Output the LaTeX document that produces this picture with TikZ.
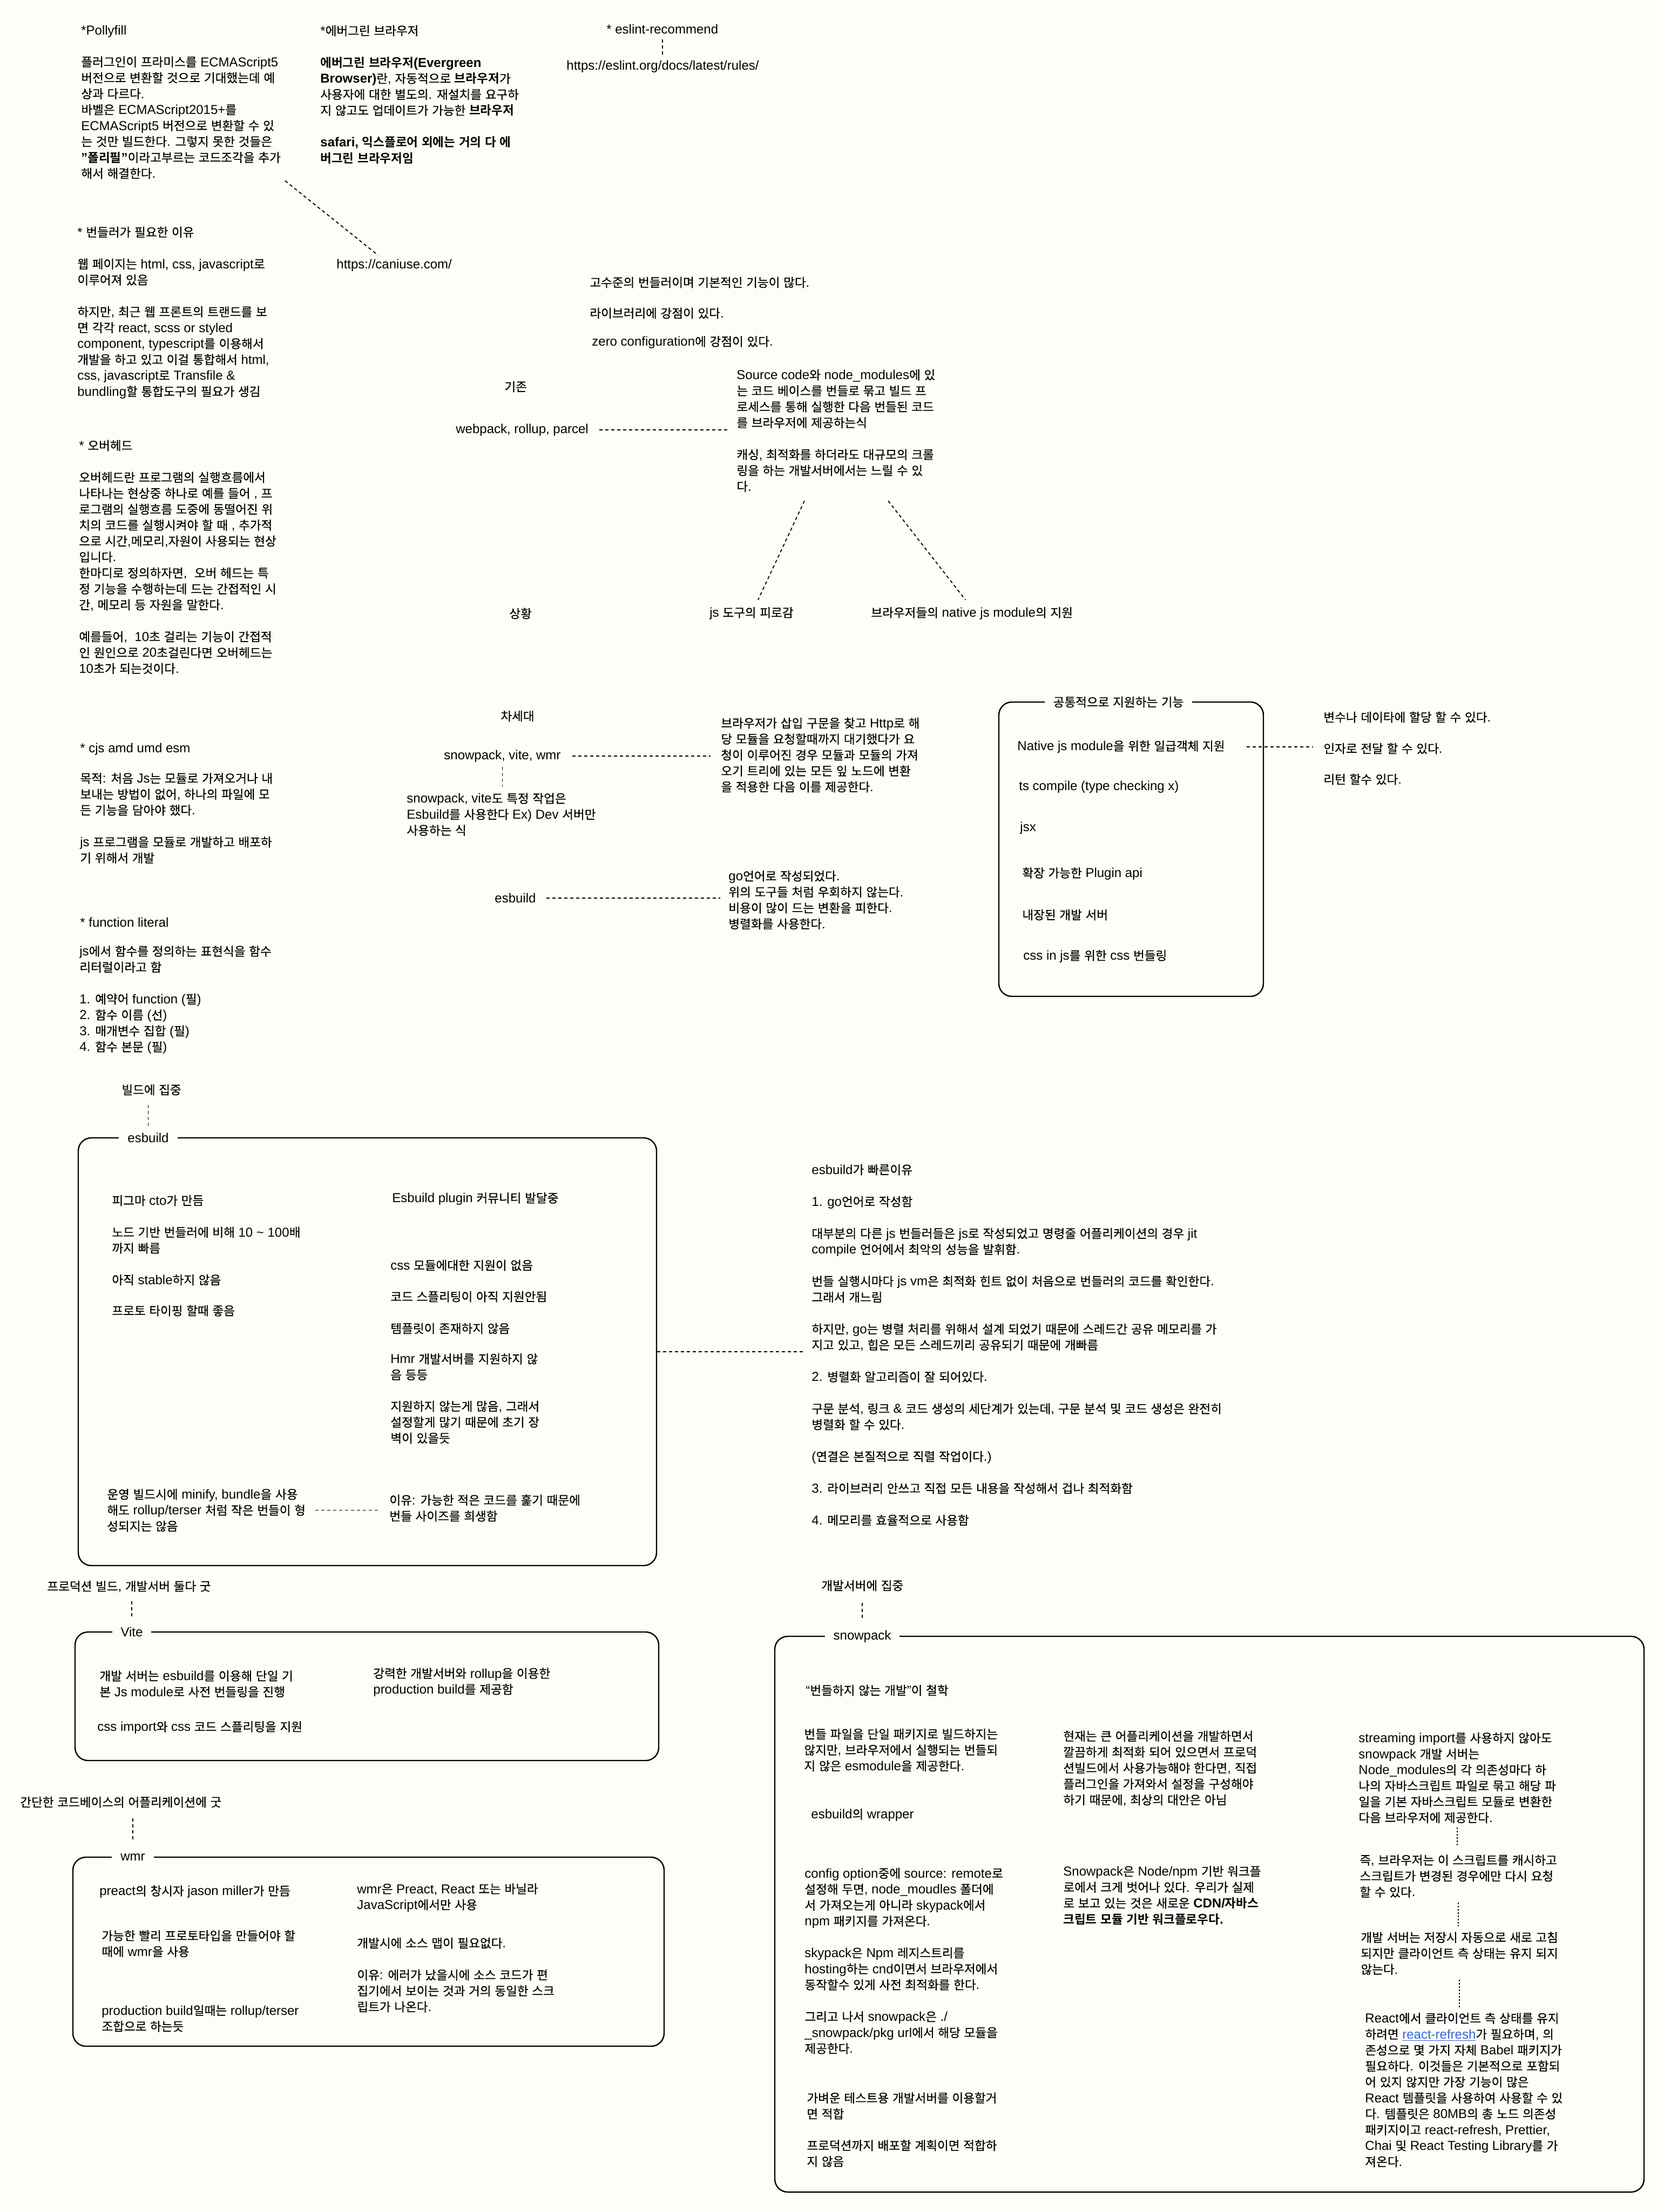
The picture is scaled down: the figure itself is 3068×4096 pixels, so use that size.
\documentclass[tikz,border=0pt]{standalone}
\usepackage{fontspec}
\setmainfont{Liberation Sans}
\newfontfamily\krfont[Scale=0.94,FakeBold=0.5,BoldFont={Noto Sans CJK KR Bold},BoldFeatures={FakeBold=0}]{Noto Sans CJK KR}
\usetikzlibrary{fit}
\definecolor{bgc}{RGB}{255,253,247}
\definecolor{linkblue}{RGB}{51,102,221}
% every Hangul syllable becomes active and is set in the Korean family
\def\krchar#1{{\krfont\char#1\relax}}
\newcount\krc
\krc="AC00
\loop
  \begingroup\lccode`\~=\krc
  \lowercase{\endgroup\edef~{\noexpand\krchar{\the\krc}}}%
  \catcode\krc=13
  \advance\krc by 1
\ifnum\krc<"D7A4 \repeat
\lineskiplimit=-20pt
\lineskip=0pt
\newcommand\fs{\fontsize{12pt}{14.75pt}\selectfont}
\newcommand\blk{14.75pt}
\tikzset{
  txt/.style={anchor=west, inner sep=0pt, align=left, font=\fs},
  ttl/.style={fill=bgc, inner xsep=8pt, inner ysep=3pt, font=\fs},
  frame/.style={draw=black, line width=1.2pt, rounded corners=12pt, inner sep=0pt},
  conn/.style={draw=black, line width=0.9pt, dash pattern=on 3pt off 2.5pt},
  dotc/.style={draw=black, line width=1.2pt, dash pattern=on 1.5pt off 1.5pt}
}
\begin{document}
\begin{tikzpicture}[x=0.5pt,y=-0.5pt]
\useasboundingbox (0,0) rectangle (3068,4096);
\fill[bgc] (0,0) rectangle (3068,4096);

% ---------- frames ----------
\node[frame, fit={(1850,1300) (2340,1845)}] (combox) {};
\node[frame, fit={(145,2107) (1216,2899)}] (esbox) {};
\node[frame, fit={(139,3022) (1220,3260)}] (vitebox) {};
\node[frame, fit={(135,3439) (1230,3789)}] (wmrbox) {};
\node[frame, fit={(1435,3030) (3045,4059)}] (snowbox) {};
\node[ttl] (comtitle) at (2071.5,1300) {공통적으로 지원하는 기능};
\node[ttl] (estitle) at (274.5,2107) {esbuild};
\node[ttl] (vitetitle) at (244,3022) {Vite};
\node[ttl] (wmrtitle) at (246,3439) {wmr};
\node[ttl] (snowtitle) at (1597,3030) {snowpack};

% ---------- top left ----------
\node[txt] (polly) at (150,189) {*Pollyfill\\[\blk]
플러그인이 프라미스를 ECMAScript5\\
버전으로 변환할 것으로 기대했는데 예\\
상과 다르다.\\
바벨은 ECMAScript2015+를\\
ECMAScript5 버전으로 변환할 수 있\\
는 것만 빌드한다. 그렇지 못한 것들은\\
\textbf{"폴리필"}이라고부르는 코드조각을 추가\\
해서 해결한다.};

\node[txt] (ever) at (593,175) {*에버그린 브라우저\\[\blk]
\textbf{에버그린 브라우저(Evergreen}\\
\textbf{Browser)}란, 자동적으로 \textbf{브라우저}가\\
사용자에 대한 별도의. 재설치를 요구하\\
지 않고도 업데이트가 가능한 \textbf{브라우저}\\[\blk]
\textbf{safari, 익스플로어 외에는 거의 다 에}\\
\textbf{버그린 브라우저임}};

\node[txt] (eslint) at (1123,54) {* eslint-recommend};
\node[txt] (eslinturl) at (1049,123) {https://eslint.org/docs/latest/rules/};
\node[txt] (caniuse) at (623,491) {https://caniuse.com/};

\node[txt] (bundler) at (143,579) {* 번들러가 필요한 이유\\[\blk]
웹 페이지는 html, css, javascript로\\
이루어져 있음\\[\blk]
하지만, 최근 웹 프론트의 트랜드를 보\\
면 각각 react, scss or styled\\
component, typescript를 이용해서\\
개발을 하고 있고 이걸 통합해서 html,\\
css, javascript로 Transfile \&\\
bundling할 통합도구의 필요가 생김};

\node[txt] (overhead) at (146,1031.5) {* 오버헤드\\[\blk]
오버헤드란 프로그램의 실행흐름에서\\
나타나는 현상중 하나로 예를 들어 , 프\\
로그램의 실행흐름 도중에 동떨어진 위\\
치의 코드를 실행시켜야 할 때 , 추가적\\
으로 시간,메모리,자원이 사용되는 현상\\
입니다.\\
한마디로 정의하자면,\ \ 오버 헤드는 특\\
정 기능을 수행하는데 드는 간접적인 시\\
간, 메모리 등 자원을 말한다.\\[\blk]
예를들어,\ \ 10초 걸리는 기능이 간접적\\
인 원인으로 20초걸린다면 오버헤드는\\
10초가 되는것이다.};

\node[txt] (cjs) at (148,1387) {* cjs amd umd esm};
\node[txt] (cjsbody) at (148,1515) {목적: 처음 Js는 모듈로 가져오거나 내\\
보내는 방법이 없어, 하나의 파일에 모\\
든 기능을 담아야 했다.\\[\blk]
js 프로그램을 모듈로 개발하고 배포하\\
기 위해서 개발};

\node[txt] (funclit) at (148,1708) {* function literal};
\node[txt] (funcbody) at (147,1851.5) {js에서 함수를 정의하는 표현식을 함수\\
리터럴이라고 함\\[\blk]
1. 예약어 function (필)\\
2. 함수 이름 (선)\\
3. 매개변수 집합 (필)\\
4. 함수 본문 (필)};

% ---------- middle ----------
\node[txt] (hi1) at (1092,523) {고수준의 번들러이며 기본적인 기능이 많다.};
\node[txt] (hi2) at (1092,580) {라이브러리에 강점이 있다.};
\node[txt] (hi3) at (1096,634) {zero configuration에 강점이 있다.};
\node[txt] (existing) at (934,716) {기존};
\node[txt] (webpack) at (844,796) {webpack, rollup, parcel};
\node[txt] (srcbody) at (1364,797.5) {Source code와 node\_modules에 있\\
는 코드 베이스를 번들로 묶고 빌드 프\\
로세스를 통해 실행한 다음 번들된 코드\\
를 브라우저에 제공하는식\\[\blk]
캐싱, 최적화를 하더라도 대규모의 크롤\\
링을 하는 개발서버에서는 느릴 수 있\\
다.};
\node[txt] (situation) at (943,1136) {상황};
\node[txt] (jsfat) at (1314,1136) {js 도구의 피로감};
\node[txt] (nativejs) at (1613,1136) {브라우저들의 native js module의 지원};

\node[txt] (nextgen) at (927,1326) {차세대};
\node[txt] (svw) at (822,1400) {snowpack, vite, wmr};
\node[txt] (ngbody) at (1335,1398) {브라우저가 삽입 구문을 찾고 Http로 해\\
당 모듈을 요청할때까지 대기했다가 요\\
청이 이루어진 경우 모듈과 모듈의 가져\\
오기 트리에 있는 모든 잎 노드에 변환\\
을 적용한 다음 이를 제공한다.};
\node[txt] (svnote) at (753,1508) {snowpack, vite도 특정 작업은\\
Esbuild를 사용한다 Ex) Dev 서버만\\
사용하는 식};
\node[txt] (esb) at (916,1663) {esbuild};
\node[txt] (gobody) at (1349,1666.5) {go언어로 작성되었다.\\
위의 도구들 처럼 우회하지 않는다.\\
비용이 많이 드는 변환을 피한다.\\
병렬화를 사용한다.};

% ---------- common features ----------
\node[txt] (native) at (1884,1383) {Native js module을 위한 일급객체 지원};
\node[txt] (tsc) at (1887,1457) {ts compile (type checking x)};
\node[txt] (jsx) at (1889,1533) {jsx};
\node[txt] (plugin) at (1893,1618) {확장 가능한 Plugin api};
\node[txt] (devsrv) at (1893,1694) {내장된 개발 서버};
\node[txt] (cssinjs) at (1895,1771) {css in js를 위한 css 번들링};
\node[txt] (fc1) at (2451,1328) {변수나 데이타에 할당 할 수 있다.};
\node[txt] (fc2) at (2451,1386) {인자로 전달 할 수 있다.};
\node[txt] (fc3) at (2451,1443) {리턴 할수 있다.};

% ---------- esbuild box ----------
\node[txt] (buildfocus) at (225,2018) {빌드에 집중};
\node[txt] (figma) at (207,2223) {피그마 cto가 만듬};
\node[txt] (fast10) at (207,2296.5) {노드 기반 번들러에 비해 10 \textasciitilde{} 100배\\
까지 빠름};
\node[txt] (stable) at (207,2370) {아직 stable하지 않음};
\node[txt] (proto) at (207,2427) {프로토 타이핑 할때 좋음};
\node[txt] (plugcomm) at (726,2220) {Esbuild plugin 커뮤니티 발달중};
\node[txt] (cssmod) at (723,2343) {css 모듈에대한 지원이 없음};
\node[txt] (split) at (723,2401) {코드 스플리팅이 아직 지원안됨};
\node[txt] (tmpl) at (723,2460) {템플릿이 존재하지 않음};
\node[txt] (hmr) at (723,2531) {Hmr 개발서버를 지원하지 않\\
음 등등};
\node[txt] (many) at (723,2633.5) {지원하지 않는게 많음, 그래서\\
설정할게 많기 때문에 초기 장\\
벽이 있을듯};
\node[txt] (prodmin) at (198,2796.5) {운영 빌드시에 minify, bundle을 사용\\
해도 rollup/terser 처럼 작은 번들이 형\\
성되지는 않음};
\node[txt] (reason) at (721,2792.5) {이유: 가능한 적은 코드를 훑기 때문에\\
번들 사이즈를 희생함};

\node[txt] (fastbody) at (1503,2490.5) {esbuild가 빠른이유\\[\blk]
1. go언어로 작성함\\[\blk]
대부분의 다른 js 번들러들은 js로 작성되었고 명령줄 어플리케이션의 경우 jit\\
compile 언어에서 최악의 성능을 발휘함.\\[\blk]
번들 실행시마다 js vm은 최적화 힌트 없이 처음으로 번들러의 코드를 확인한다.\\
그래서 개느림\\[\blk]
하지만, go는 병렬 처리를 위해서 설계 되었기 때문에 스레드간 공유 메모리를 가\\
지고 있고, 힙은 모든 스레드끼리 공유되기 때문에 개빠름\\[\blk]
2. 병렬화 알고리즘이 잘 되어있다.\\[\blk]
구문 분석, 링크 \& 코드 생성의 세단계가 있는데, 구문 분석 및 코드 생성은 완전히\\
병렬화 할 수 있다.\\[\blk]
(연결은 본질적으로 직렬 작업이다.)\\[\blk]
3. 라이브러리 안쓰고 직접 모든 내용을 작성해서 겁나 최적화함\\[\blk]
4. 메모리를 효율적으로 사용함};

% ---------- vite / wmr ----------
\node[txt] (prodgood) at (87,2938) {프로덕션 빌드, 개발서버 둘다 굿};
\node[txt] (v1) at (184,3118) {개발 서버는 esbuild를 이용해 단일 기\\
본 Js module로 사전 번들링을 진행};
\node[txt] (v2) at (180,3199) {css import와 css 코드 스플리팅을 지원};
\node[txt] (v3) at (691,3115) {강력한 개발서버와 rollup을 이용한\\
production build를 제공함};
\node[txt] (simple) at (37,3337) {간단한 코드베이스의 어플리케이션에 굿};
\node[txt] (w1) at (184,3503) {preact의 창시자 jason miller가 만듬};
\node[txt] (w2) at (188,3599) {가능한 빨리 프로토타입을 만들어야 할\\
때에 wmr을 사용};
\node[txt] (w3) at (188,3737.5) {production build일때는 rollup/terser\\
조합으로 하는듯};
\node[txt] (w4) at (661,3514) {wmr은 Preact, React 또는 바닐라\\
JavaScript에서만 사용};
\node[txt] (w5) at (661,3598) {개발시에 소스 맵이 필요없다.};
\node[txt] (w6) at (661,3686.5) {이유: 에러가 났을시에 소스 코드가 편\\
집기에서 보이는 것과 거의 동일한 스크\\
립트가 나온다.};

% ---------- snowpack ----------
\node[txt] (devfocus) at (1521,2936) {개발서버에 집중};
\node[txt] (s1) at (1492,3130) {“번들하지 않는 개발”이 철학};
\node[txt] (s2) at (1489,3240.5) {번들 파일을 단일 패키지로 빌드하지는\\
않지만, 브라우저에서 실행되는 번들되\\
지 않은 esmodule을 제공한다.};
\node[txt] (s3) at (1502,3361) {esbuild의 wrapper};
\node[txt] (s4) at (1490,3631) {config option중에 source: remote로\\
설정해 두면, node\_moudles 폴더에\\
서 가져오는게 아니라 skypack에서\\
npm 패키지를 가져온다.\\[\blk]
skypack은 Npm 레지스트리를\\
hosting하는 cnd이면서 브라우저에서\\
동작할수 있게 사전 최적화를 한다.\\[\blk]
그리고 나서 snowpack은 ./\\
\_snowpack/pkg url에서 해당 모듈을\\
제공한다.};
\node[txt] (s5) at (1494,3899.5) {가벼운 테스트용 개발서버를 이용할거\\
면 적합};
\node[txt] (s6) at (1494,3987.5) {프로덕션까지 배포할 계획이면 적합하\\
지 않음};
\node[txt] (s7) at (1969,3274.5) {현재는 큰 어플리케이션을 개발하면서\\
깔끔하게 최적화 되어 있으면서 프로덕\\
션빌드에서 사용가능해야 한다면, 직접\\
플러그인을 가져와서 설정을 구성해야\\
하기 때문에, 최상의 대안은 아님};
\node[txt] (s8) at (1969,3509.5) {Snowpack은 Node/npm 기반 워크플\\
로에서 크게 벗어나 있다. 우리가 실제\\
로 보고 있는 것은 새로운 \textbf{CDN/자바스}\\
\textbf{크립트 모듈 기반 워크플로우다.}};
\node[txt] (r1) at (2516,3292) {streaming import를 사용하지 않아도\\
snowpack 개발 서버는\\
Node\_modules의 각 의존성마다 하\\
나의 자바스크립트 파일로 묶고 해당 파\\
일을 기본 자바스크립트 모듈로 변환한\\
다음 브라우저에 제공한다.};
\node[txt] (r2) at (2518,3474) {즉, 브라우저는 이 스크립트를 캐시하고\\
스크립트가 변경된 경우에만 다시 요청\\
할 수 있다.};
\node[txt] (r3) at (2520,3617) {개발 서버는 저장시 자동으로 새로 고침\\
되지만 클라이언트 측 상태는 유지 되지\\
않는다.};
\node[txt] (r4) at (2528,3870) {React에서 클라이언트 측 상태를 유지\\
하려면 {\color{linkblue}\underline{react-refresh}}가 필요하며, 의\\
존성으로 몇 가지 자체 Babel 패키지가\\
필요하다. 이것들은 기본적으로 포함되\\
어 있지 않지만 가장 기능이 많은\\
React 템플릿을 사용하여 사용할 수 있\\
다. 템플릿은 80MB의 총 노드 의존성\\
패키지이고 react-refresh, Prettier,\\
Chai 및 React Testing Library를 가\\
져온다.};

% ---------- connectors ----------
\draw[conn] ([xshift=189pt,yshift=-1.5pt]polly.south west) -- ([xshift=38.5pt,yshift=3.5pt]caniuse.north west);
\draw[conn, shorten <=5pt, shorten >=5pt] (eslint.south) -- (eslint.south |- eslinturl.north);
\draw[conn, shorten <=10pt, shorten >=8pt] (webpack.east) -- (webpack.east -| srcbody.west);
\draw[conn] ([xshift=63pt,yshift=-8pt]srcbody.south west) -- ([xshift=6pt,yshift=6.5pt]jsfat.north);
\draw[conn] ([xshift=140.5pt,yshift=-8pt]srcbody.south west) -- ([xshift=-6pt,yshift=6.5pt]nativejs.north);
\draw[conn, shorten <=10.5pt, shorten >=9.5pt] (svw.east) -- (svw.east -| ngbody.west);
\draw[conn, shorten <=4pt, shorten >=5.5pt] (svw.south) -- (svw.south |- svnote.north);
\draw[conn, shorten <=9.5pt, shorten >=7.5pt] (esb.east) -- (esb.east -| gobody.west);
\draw[conn, shorten <=20pt, shorten >=9.5pt] (native.east) -- (native.east -| fc2.west);
\draw[conn, shorten >=7pt] ([yshift=11pt]estitle.center) -- (estitle.center |- buildfocus.south);
\draw[conn, shorten >=7pt] (esbox.east) -- (esbox.east -| fastbody.west);
\draw[conn, shorten <=9pt, shorten >=8pt] (prodmin.east) -- (prodmin.east -| reason.west);
\draw[conn, shorten >=6.5pt] ([yshift=14.5pt]vitetitle.center) -- (vitetitle.center |- prodgood.south);
\draw[conn, shorten >=7.5pt] ([yshift=16.5pt]wmrtitle.center) -- (wmrtitle.center |- simple.south);
\draw[conn, shorten >=8.5pt] ([yshift=17pt]snowtitle.center) -- (snowtitle.center |- devfocus.south);
\draw[dotc, shorten <=4pt, shorten >=7pt] (r1.south) -- (r1.south |- r2.north);
\draw[dotc, shorten <=4.5pt, shorten >=5pt] (r2.south) -- (r2.south |- r3.north);
\draw[dotc, shorten <=4.5pt, shorten >=5pt] (r3.south) -- (r3.south |- r4.north);
\end{tikzpicture}
\end{document}
